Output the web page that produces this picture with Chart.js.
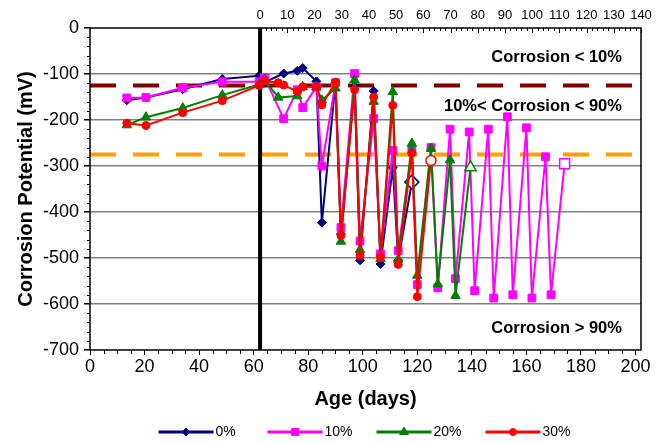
<!DOCTYPE html>
<html>
<head>
<meta charset="utf-8">
<title>Corrosion potential vs age</title>
<script src="https://cdn.jsdelivr.net/npm/chart.js@4.4.1/dist/chart.umd.min.js"></script>
<style>
  html, body { margin: 0; padding: 0; background: #fff; }
  #wrap { width: 667px; height: 443px; }
</style>
</head>
<body>
<div id="wrap"><canvas id="graphCanvas" width="667" height="443"></canvas></div>
<script>
// ================================
// Data
// ================================
const seriesNames = ['0%', '10%', '20%', '30%'];

// 0% replacement
const days0 = [13.5, 20.5, 34, 48.5, 62, 64, 71, 76, 78, 83, 85, 90, 92, 97, 99, 104, 106.5, 111, 113, 118];
const mv0   = [-157, -151, -133, -111, -104, -118, -99, -93, -87, -116, -423, -119, -448, -126, -505, -137, -513, -303, -505, -335];

// 10%
const days1 = [13.5, 20.5, 34, 48.5, 62, 64, 71, 76, 78, 83, 85, 90, 92, 97, 99, 104, 106.5, 111, 113, 118, 120,
               125, 127.5, 132, 134, 139, 141, 146, 148, 153, 155, 160, 162, 167, 169, 174];
const mv1   = [-152, -151, -130, -117, -117, -108, -197, -134, -173, -128, -300, -119, -434, -99, -463, -197, -491, -266, -484, -266, -558,
               -260, -565, -220, -545, -226, -571, -220, -587, -193, -580, -217, -587, -280, -580, -295];

// 20%
const days2 = [13.5, 20.5, 34, 48.5, 62, 64, 69, 76, 78, 83, 85, 90, 92, 97, 99, 104, 106.5, 111, 113, 118, 120,
               125, 127.5, 132, 134, 139.5];
const mv2   = [-211, -194, -174, -146, -123, -113, -151, -148, -128, -128, -157, -131, -464, -113, -482, -160, -502, -139, -503, -251, -538,
               -262, -557, -287, -582, -303];

// 30%
const days3 = [13.5, 20.5, 34, 48.5, 62, 64, 69, 71, 76, 78, 83, 85, 90, 92, 97, 99, 104, 106.5, 111, 113, 118, 120, 125];
const mv3   = [-207, -212, -184, -158, -125, -115, -119, -124, -138, -128, -128, -167, -118, -451, -134, -495, -150, -498, -168, -514, -272, -584, -288];

const allDays = [days0, days1, days2, days3];
const allMv = [mv0, mv1, mv2, mv3];

// Axis ticks
const xTicks = [0, 20, 40, 60, 80, 100, 120, 140, 160, 180, 200];
const topTicks = [0, 10, 20, 30, 40, 50, 60, 70, 80, 90, 100, 110, 120, 130, 140];
const yTicks = [0, -100, -200, -300, -400, -500, -600, -700];

// Corrosion thresholds and zone names
const thresholds = [-125, -275];
const zoneLabels = ['Corrosion < 10%', '10%< Corrosion < 90%', 'Corrosion > 90%'];

// ================================
// Styles
// ================================
const FONT = '"Liberation Sans", Arial, sans-serif';
const colors = ['#000080', '#ff00ff', '#008000', '#ff0000'];
const markers = ['rectRot', 'rect', 'triangle', 'circle'];
const markerSize = [4.5, 5.5, 5.5, 4];
const hollowSize = [7, 7, 6.5, 5];
const thresholdColors = ['#800000', '#ffa000'];
const zoneX = 195;                 // age where zone labels end (right aligned)
const zoneY = [-65, -170, -654];   // vertical position of zone labels
const topAxisStart = 62.5;         // age (days) where the top axis starts

const datasets = seriesNames.map((name, i) => {
  const pts = allDays[i].map((d, k) => ({ x: d, y: allMv[i][k] }));
  const last = pts.length - 1;
  return {
    label: name,
    data: pts,
    borderColor: colors[i],
    backgroundColor: colors[i],
    borderWidth: 2,
    pointStyle: markers[i],
    pointRadius: c => (c.dataIndex === last ? hollowSize[i] : markerSize[i]),
    pointBackgroundColor: c => (c.dataIndex === last ? '#fff' : colors[i]),
    pointBorderColor: colors[i],
    pointBorderWidth: c => (c.dataIndex === last ? 1.5 : 1),
    order: 3 - i,
    tension: 0
  };
});

function drawMarker(ctx, i, x, y) {
  ctx.fillStyle = colors[i];
  ctx.strokeStyle = colors[i];
  ctx.lineWidth = 1;
  if (Chart.helpers && Chart.helpers.drawPoint) {
    Chart.helpers.drawPoint(ctx, { pointStyle: markers[i], radius: markerSize[i] - 0.5, borderWidth: 1, rotation: 0 }, x, y);
  } else {
    ctx.beginPath();
    ctx.arc(x, y, markerSize[i] - 0.5, 0, Math.PI * 2);
    ctx.fill();
  }
}

// Dashed thresholds, zone labels, frame, minor ticks and legend
const decor = {
  id: 'decor',
  beforeDatasetsDraw(chart) {
    const { ctx, chartArea: a, scales } = chart;
    const x2 = scales.x2, y = scales.y;
    ctx.save();

    ctx.lineWidth = 4;
    ctx.setLineDash([26, 17]);
    thresholds.forEach((v, i) => {
      const py = y.getPixelForValue(v);
      ctx.strokeStyle = thresholdColors[i];
      ctx.beginPath();
      ctx.moveTo(a.left, py);
      ctx.lineTo(a.right, py);
      ctx.stroke();
    });
    ctx.setLineDash([]);

    ctx.font = 'bold 16.5px ' + FONT;
    ctx.fillStyle = '#000';
    ctx.textAlign = 'right';
    ctx.textBaseline = 'middle';
    zoneLabels.forEach((t, i) => {
      ctx.fillText(t, scales.x.getPixelForValue(zoneX), y.getPixelForValue(zoneY[i]));
    });

    // frame
    ctx.strokeStyle = '#000';
    ctx.lineWidth = 1.5;
    ctx.strokeRect(a.left, a.top, a.right - a.left, a.bottom - a.top);

    // start of the second axis
    const px = x2.getPixelForValue(0);
    ctx.lineWidth = 4;
    ctx.beginPath();
    ctx.moveTo(px, a.top);
    ctx.lineTo(px, a.bottom);
    ctx.stroke();
    ctx.restore();
  },
  afterDraw(chart) {
    const { ctx, chartArea: a, scales } = chart;
    ctx.save();
    ctx.strokeStyle = '#000';
    ctx.lineWidth = 1;
    ctx.beginPath();
    // y minor ticks
    for (let v = -700; v <= 0; v += 20) {
      if (v % 100 === 0) continue;
      const py = Math.round(scales.y.getPixelForValue(v)) + 0.5;
      ctx.moveTo(a.left - 3, py);
      ctx.lineTo(a.left, py);
    }
    // bottom minor ticks
    for (let v = 0; v <= 200; v += 5) {
      if (v % 20 === 0) continue;
      const px = Math.round(scales.x.getPixelForValue(v)) + 0.5;
      ctx.moveTo(px, a.bottom);
      ctx.lineTo(px, a.bottom + 4);
    }
    // top axis ticks, pointing inside
    for (let v = 0; v <= 140; v += 2) {
      const px = Math.round(scales.x2.getPixelForValue(v)) + 0.5;
      ctx.moveTo(px, a.top);
      ctx.lineTo(px, a.top + (v % 10 === 0 ? 5 : 3));
    }
    ctx.stroke();

    // legend: line + marker + text, equal slots centred on the plot
    const slot = 109, lineLen = 55, ly = 432;
    const cx = (a.left + a.right) / 2;
    const start = cx - (slot * 3 + lineLen + 32) / 2;
    ctx.font = '14px ' + FONT;
    ctx.textAlign = 'left';
    ctx.textBaseline = 'middle';
    seriesNames.forEach((name, i) => {
      const x0 = start + slot * i;
      ctx.strokeStyle = colors[i];
      ctx.lineWidth = 3;
      ctx.beginPath();
      ctx.moveTo(x0, ly);
      ctx.lineTo(x0 + lineLen, ly);
      ctx.stroke();
      drawMarker(ctx, i, x0 + lineLen / 2, ly);
      ctx.fillStyle = '#000';
      ctx.fillText(name, x0 + lineLen + 2, ly);
    });
    ctx.restore();
  }
};

const canvas = document.getElementById('graphCanvas');
const chart = new Chart(canvas.getContext('2d'), {
  type: 'line',
  data: { datasets },
  plugins: [decor],
  options: {
    responsive: false,
    animation: false,
    layout: { padding: { left: 0, right: 26, top: 0, bottom: 0 } },
    plugins: { legend: { display: false }, tooltip: { enabled: false } },
    scales: {
      x: {
        type: 'linear',
        position: 'bottom',
        min: 0,
        max: 202,
        afterBuildTicks: s => { s.ticks = xTicks.map(v => ({ value: v })); },
        afterFit: s => { s.height = 93; },
        grid: { drawOnChartArea: false, drawTicks: true, tickLength: 5, color: '#000', lineWidth: 1 },
        border: { display: false },
        ticks: { color: '#000', font: { family: FONT, size: 18 }, padding: 1, maxRotation: 0 },
        title: { display: true, text: 'Age (days)', color: '#000', font: { family: FONT, size: 20, weight: 'bold' }, padding: { top: 0, bottom: 32 } }
      },
      x2: {
        type: 'linear',
        position: 'top',
        min: -topAxisStart,
        max: 140,
        afterBuildTicks: s => { s.ticks = topTicks.map(v => ({ value: v })); },
        afterFit: s => { s.height = 28; },
        grid: { display: false },
        border: { display: false },
        ticks: { color: '#000', font: { family: FONT, size: 13 }, padding: -3, maxRotation: 0 }
      },
      y: {
        type: 'linear',
        min: -700,
        max: 0,
        afterBuildTicks: s => { s.ticks = yTicks.map(v => ({ value: v })); },
        afterFit: s => { s.width = 90; },
        grid: {
          color: c => (c.tick && (c.tick.value === 0 || c.tick.value === -700) ? 'rgba(0,0,0,0)' : '#808080'),
          tickColor: '#000',
          lineWidth: 1.5,
          tickLength: 6
        },
        border: { display: false },
        ticks: { color: '#000', font: { family: FONT, size: 18 }, padding: 5 },
        title: { display: true, text: 'Corrosion Potential (mV)', color: '#000', font: { family: FONT, size: 20, weight: 'bold' }, padding: { top: 14, bottom: 0 } }
      }
    }
  }
});
</script>
</body>
</html>
